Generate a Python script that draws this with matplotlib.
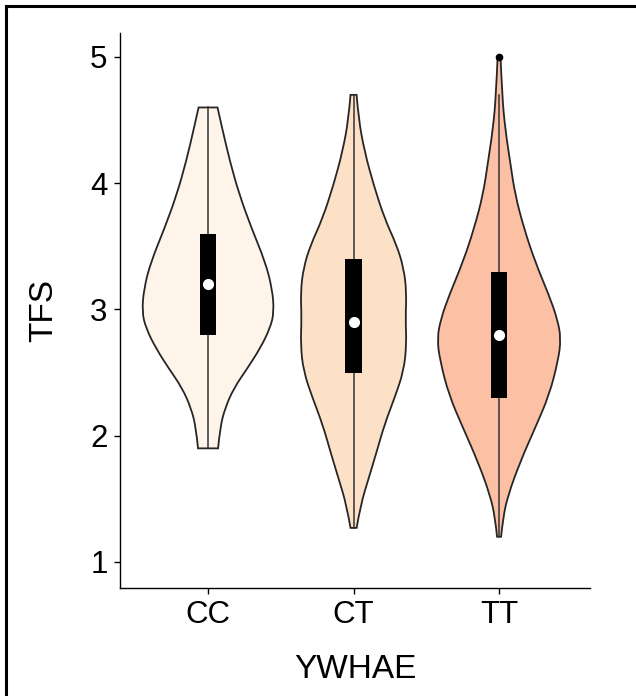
import matplotlib.pyplot as plt
from matplotlib.lines import Line2D
from matplotlib.path import Path
from matplotlib.patches import PathPatch

plt.rcParams['font.family'] = ['Liberation Sans', 'DejaVu Sans']

# groups and fills
groups = ['CC', 'CT', 'TT']
fills = ['#FFF4EA', '#FDE1C6', '#FCC0A5']

# violin outlines: TFS level and half width (in category units)
cc_y = [4.6, 4.44, 4.17, 3.91, 3.64, 3.38, 3.17, 2.98, 2.85, 2.69, 2.53, 2.38, 2.22, 2.06, 1.9]
cc_w = [0.065, 0.096, 0.151, 0.215, 0.300, 0.392, 0.440, 0.454, 0.426, 0.357, 0.268, 0.179, 0.117, 0.082, 0.069]

ct_y = [4.7, 4.51, 4.25, 3.99, 3.72, 3.51, 3.33, 3.14, 2.93, 2.72, 2.51, 2.30, 2.09, 1.87, 1.66, 1.45, 1.27]
ct_w = [0.021, 0.034, 0.076, 0.137, 0.213, 0.296, 0.344, 0.364, 0.357, 0.364, 0.344, 0.282, 0.213, 0.158, 0.103, 0.048, 0.021]

tt_y = [5.0, 4.7, 4.44, 4.17, 3.91, 3.64, 3.38, 3.11, 2.93, 2.77, 2.59, 2.32, 2.06, 1.79, 1.53, 1.35, 1.2]
tt_w = [0.010, 0.021, 0.041, 0.076, 0.110, 0.172, 0.247, 0.344, 0.399, 0.426, 0.405, 0.344, 0.247, 0.144, 0.062, 0.027, 0.014]

# box summary
q1 = [2.8, 2.5, 2.3]
med = [3.2, 2.9, 2.8]
q3 = [3.6, 3.4, 3.3]
wlo = [1.9, 1.27, 1.2]
whi = [4.6, 4.7, 4.7]
outliers = [[], [], [5.0]]

profiles = [(cc_y, cc_w), (ct_y, ct_w), (tt_y, tt_w)]


def smooth_side(pts, verts, codes, first):
    # quadratic bezier through midpoints, read points used as control points
    verts.append(pts[0])
    codes.append(Path.MOVETO if first else Path.LINETO)
    for k in range(1, len(pts) - 2):
        mid = ((pts[k][0] + pts[k + 1][0]) / 2, (pts[k][1] + pts[k + 1][1]) / 2)
        verts += [pts[k], mid]
        codes += [Path.CURVE3, Path.CURVE3]
    verts += [pts[-2], pts[-1]]
    codes += [Path.CURVE3, Path.CURVE3]


fig = plt.figure(figsize=(6.36, 6.96), dpi=100)
ax = fig.add_axes([0.1887, 0.1552, 0.739, 0.7974])

for i, (ys, ws) in enumerate(profiles):
    right = [(i + w, y) for w, y in zip(ws, ys)]
    left = [(i - w, y) for w, y in zip(ws, ys)][::-1]
    verts, codes = [], []
    smooth_side(right, verts, codes, True)
    smooth_side(left, verts, codes, False)
    verts.append(right[0])
    codes.append(Path.CLOSEPOLY)
    ax.add_patch(PathPatch(Path(verts, codes), facecolor=fills[i],
                           edgecolor='#262626', linewidth=1.3, zorder=2))
    ax.plot([i, i], [wlo[i], whi[i]], color='#333333', linewidth=1.1, zorder=3)
    ax.bar(i, q3[i] - q1[i], bottom=q1[i], width=0.115, color='black', zorder=4)
    ax.plot(i, med[i], 'o', color='white', markersize=7, zorder=5)
    for o in outliers[i]:
        ax.plot(i, o, 'o', color='black', markersize=4.5, zorder=5)

ax.set_xlim(-0.605, 2.625)
ax.set_ylim(0.794, 5.19)
ax.set_xticks(range(len(groups)))
ax.set_xticklabels(groups)
ax.set_yticks([1, 2, 3, 4, 5])

for s in ['top', 'right']:
    ax.spines[s].set_visible(False)
for s in ['left', 'bottom']:
    ax.spines[s].set_linewidth(1.0)
ax.tick_params(length=4, width=1.0, labelsize=22.5, colors='black', pad=5)

ax.set_xlabel('YWHAE', fontsize=24, labelpad=17)
ax.set_ylabel('TFS', fontsize=24, labelpad=22)

# frame lines at top and left edge
fig.add_artist(Line2D([0.0094, 1.0], [0.9914, 0.9914], color='black', linewidth=2.2))
fig.add_artist(Line2D([0.0094, 0.0094], [0.0, 0.9914], color='black', linewidth=2.2))

fig.savefig('out.png', dpi=100)
